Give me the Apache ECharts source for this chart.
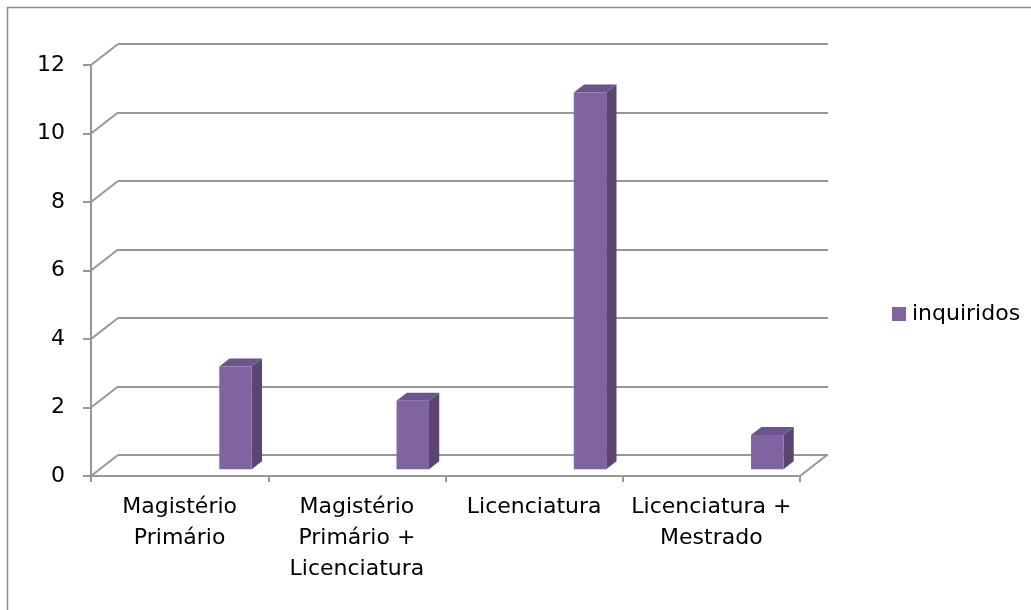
<!DOCTYPE html>
<html>
<head>
<meta charset="utf-8">
<script src="https://cdn.jsdelivr.net/npm/echarts@6/dist/echarts.min.js"></script>
<style>
html,body{margin:0;padding:0;background:#fff;}
#c{width:1031px;height:610px;}
</style>
</head>
<body>
<div id="c"></div>
<script>
const categories = ["Magistério\nPrimário", "Magistério\nPrimário +\nLicenciatura", "Licenciatura", "Licenciatura +\nMestrado"];
const seriesName = "inquiridos";
const values = [3, 2, 11, 1];
const yTicks = [0, 2, 4, 6, 8, 10, 12];

// 3D projection constants (style/layout)
const DX = 27, DY = -21;
const D0 = 0.32, D1 = 0.70;
const BAR_L = 0.675, BAR_W = 0.183;
const FONT = "DejaVu Sans";
const GRID_COLOR = "#979797";

const chart = echarts.init(document.getElementById('c'), null, {renderer: 'canvas'});

const option = {
  backgroundColor: '#fff',
  animation: false,
  graphic: [{
    type: 'rect', silent: true, z: 0,
    shape: {x: 7.5, y: 7.5, width: 1100, height: 700},
    style: {fill: 'none', stroke: '#8a8a8a', lineWidth: 1.5}
  }],
  legend: {
    data: [seriesName],
    left: 887, top: 298,
    icon: 'rect', itemWidth: 14, itemHeight: 14, itemGap: 10,
    textStyle: {fontFamily: FONT, fontSize: 22, color: '#000', padding: [0, 0, 0, 1]}
  },
  grid: [
    {left: 91, top: 65, width: 709, height: 411},
    {left: 118, top: 44, width: 710, height: 411}
  ],
  xAxis: [
    {
      type: 'category', gridIndex: 0, data: categories,
      axisLine: {show: true, lineStyle: {color: GRID_COLOR, width: 2}},
      axisTick: {show: true, length: 6, lineStyle: {color: GRID_COLOR, width: 2}},
      axisLabel: {interval: 0, margin: 16, fontFamily: FONT, fontSize: 22, lineHeight: 31, color: '#000', align: 'center'},
      splitLine: {show: false}
    },
    {
      type: 'category', gridIndex: 1, data: categories, show: false
    }
  ],
  yAxis: [
    {
      type: 'value', gridIndex: 0, min: 0, max: 12, interval: 2,
      axisLine: {show: true, lineStyle: {color: GRID_COLOR, width: 2}},
      axisTick: {show: true, length: 8, lineStyle: {color: GRID_COLOR, width: 2}},
      axisLabel: {margin: 26, fontFamily: FONT, fontSize: 22, color: '#000'},
      splitLine: {show: false}
    },
    {
      type: 'value', gridIndex: 1, min: 0, max: 12, interval: 2,
      axisLine: {show: false}, axisTick: {show: false}, axisLabel: {show: false},
      splitLine: {show: true, lineStyle: {color: GRID_COLOR, width: 2}}
    }
  ],
  series: [
    {
      type: 'custom', name: '_connectors', xAxisIndex: 0, yAxisIndex: 0, silent: true, z: 1,
      data: yTicks.map(v => [0, v]),
      renderItem: function (params, api) {
        const band = api.size([1, 0])[0];
        const c = api.coord([0, api.value(1)]);
        const x0 = c[0] - band / 2;
        const children = [{
          type: 'line',
          shape: {x1: x0, y1: c[1], x2: x0 + DX, y2: c[1] + DY},
          style: {stroke: GRID_COLOR, lineWidth: 2}
        }];
        if (api.value(1) === yTicks[0]) {
          const cr = api.coord([categories.length - 1, api.value(1)]);
          const xr = cr[0] + band / 2;
          children.push({
            type: 'line',
            shape: {x1: xr, y1: cr[1], x2: xr + DX, y2: cr[1] + DY},
            style: {stroke: GRID_COLOR, lineWidth: 2}
          });
        }
        return {type: 'group', children: children};
      }
    },
    {
      type: 'custom', name: seriesName, xAxisIndex: 0, yAxisIndex: 0, z: 3,
      itemStyle: {color: '#8064A2'},
      data: values.map((v, i) => [i, v]),
      renderItem: function (params, api) {
        const band = api.size([1, 0])[0];
        const c0 = api.coord([api.value(0), 0]);
        const c1 = api.coord([api.value(0), api.value(1)]);
        const left = c0[0] - band / 2 + BAR_L * band;
        const w = BAR_W * band;
        const fx = D0 * DX, fy = D0 * DY, bx = D1 * DX, by = D1 * DY;
        const yt = c1[1], yb = c0[1];
        return {
          type: 'group',
          children: [
            {
              type: 'polygon',
              shape: {points: [[left + fx + w, yt + fy], [left + bx + w, yt + by], [left + bx + w, yb + by], [left + fx + w, yb + fy]]},
              style: {fill: '#594570'}
            },
            {
              type: 'polygon',
              shape: {points: [[left + fx, yt + fy], [left + bx, yt + by], [left + bx + w, yt + by], [left + fx + w, yt + fy]]},
              style: {fill: '#6B558C'}
            },
            {
              type: 'rect',
              shape: {x: left + fx, y: yt + fy, width: w, height: yb - yt},
              style: {fill: '#8064A2'}
            }
          ]
        };
      }
    }
  ]
};
chart.setOption(option);
</script>
</body>
</html>
